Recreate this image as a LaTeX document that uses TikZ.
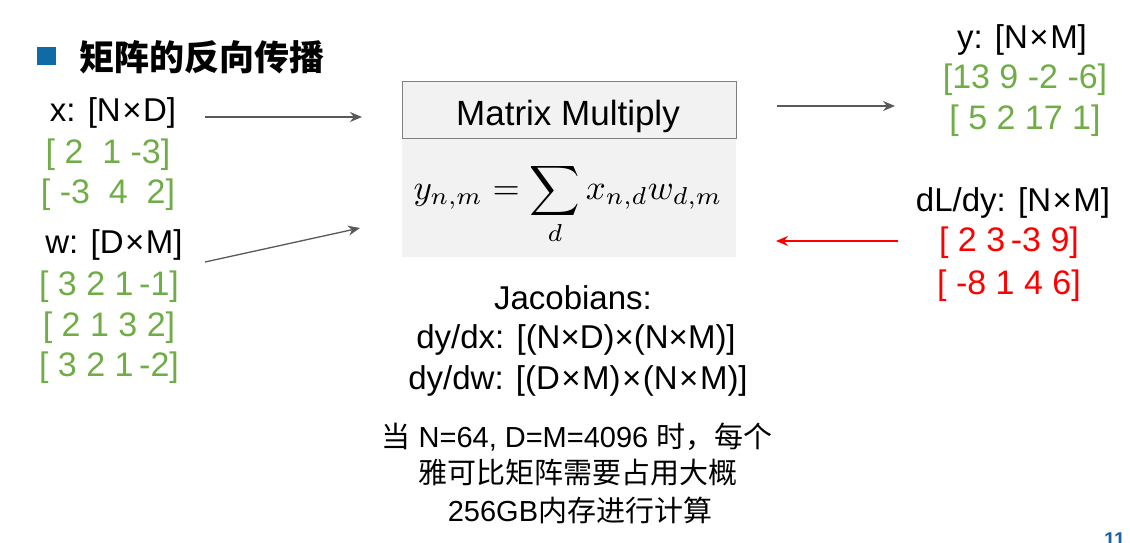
\documentclass[tikz,border=0pt]{standalone}
\usepackage{fontspec}
\setmainfont{Liberation Sans}
\newfontfamily\cjk{Noto Sans CJK SC}
\usetikzlibrary{arrows.meta}
\definecolor{mgreen}{HTML}{70AD47}
\definecolor{mgray}{HTML}{595959}
\definecolor{mblue}{HTML}{0F6BA5}
\definecolor{pblue}{HTML}{1F5FA8}
\definecolor{boxfill}{HTML}{F2F2F2}
\definecolor{boxline}{HTML}{7F7F7F}
\definecolor{mred}{HTML}{FF0000}
\newcommand{\tms}{\kern1.5pt×\kern1.5pt}
\begin{document}
\begin{tikzpicture}[x=1pt,y=-1pt,
  lbl/.style={font=\fontsize{33}{38}\selectfont, inner sep=0pt, anchor=center},
  greenrow/.style={lbl, font=\fontsize{34}{38}\selectfont, text=mgreen},
  redrow/.style={lbl, font=\fontsize{34}{38}\selectfont, text=mred},
  cn/.style={font=\fontsize{29}{34}\selectfont, inner sep=0pt, anchor=center},
  garrow/.style={draw=mgray, line width=1.3pt, -{Stealth[length=12pt,width=10pt]}},
  rarrow/.style={draw=mred, line width=1.6pt, -{Stealth[length=12pt,width=10pt]}}]
\useasboundingbox (0,0) rectangle (1130,543);
% title
\fill[mblue] (37,47) rectangle (56,65);
\node[anchor=west, inner sep=0pt, font=\cjk\bfseries\fontsize{35}{40}\selectfont] (title) at (79,57) {矩阵的反向传播};
% x
\node[lbl] (xl) at (113,113) {x: [N\tms D]};
\node[greenrow] (x1) at (108,155) {[\ 2\ \ 1\ -3]};
\node[greenrow] (x2) at (108,195) {[\ -3\ \ 4\ \ 2]};
% w
\node[lbl] (wl) at (114,245) {w: [D\tms M]};
\node[greenrow] (w1) at (109,287) {[\ 3\ 2\ 1\,-1]};
\node[greenrow] (w2) at (109,328) {[\ 2\ 1\ 3\ 2]};
\node[greenrow] (w3) at (109,368) {[\ 3\ 2\ 1\,-2]};
% box
\fill[boxfill] (402,138) rectangle (736,257);
\node[draw=boxline, line width=1.2pt, fill=boxfill, minimum width=334pt, minimum height=57pt, inner sep=0pt, anchor=north west] (mm) at (402,81) {};
\node[inner sep=0pt, font=\fontsize{35}{40}\selectfont] (mmt) at (568,116) {Matrix Multiply};
\node[inner sep=0pt] (eq) at (568,204) {\scalebox{3.5}{$\displaystyle y_{n,m}=\sum_d x_{n,d}w_{d,m}$}};
\coordinate (inx) at (362,117);
\coordinate (inw) at (360,228);
\coordinate (outy) at (895,106);
\coordinate (outdl) at (776,241);
\coordinate (srcx) at (205,117);
\coordinate (srcw) at (205,262);
\coordinate (srcy) at (777,106);
\coordinate (srcdl) at (898,241);
\draw[garrow] (srcx) -- (inx);
\draw[garrow] (srcw) -- (inw);
\draw[garrow] (srcy) -- (outy);
\draw[rarrow] (srcdl) -- (outdl);
% y
\node[lbl] (yl) at (1022,40) {y: [N\tms M]};
\node[greenrow] (y1) at (1025,80) {[13 9 -2 -6]};
\node[greenrow] (y2) at (1025,121) {[\ 5 2 17 1]};
% dL/dy
\node[lbl] (dl) at (1013,203) {dL/dy: [N\tms M]};
\node[redrow] (d1) at (1009,243) {[\ 2\ 3\,-3\ 9]};
\node[redrow] (d2) at (1009,286) {[\ -8\ 1\ 4\ 6]};
% Jacobians
\node[lbl] (jac) at (573,298) {Jacobians:};
\node[lbl] (jx) at (576,340) {dy/dx: [(N×D)×(N×M)]};
\node[lbl] (jw) at (578,381) {dy/dw: [(D\tms M)\tms(N\tms M)]};
\node[cn] (c1) at (577,437) {{\cjk 当} N=64, D=M=4096 {\cjk 时，每个}};
\node[cn] (c2) at (578,473) {\cjk 雅可比矩阵需要占用大概};
\node[cn] (c3) at (580,510) {256GB{\cjk 内存进行计算}};
% page number
\node[anchor=north west, inner sep=0pt, text=pblue, font=\bfseries\fontsize{20}{24}\selectfont] (pg) at (1104,533) {11};
\end{tikzpicture}
\end{document}
